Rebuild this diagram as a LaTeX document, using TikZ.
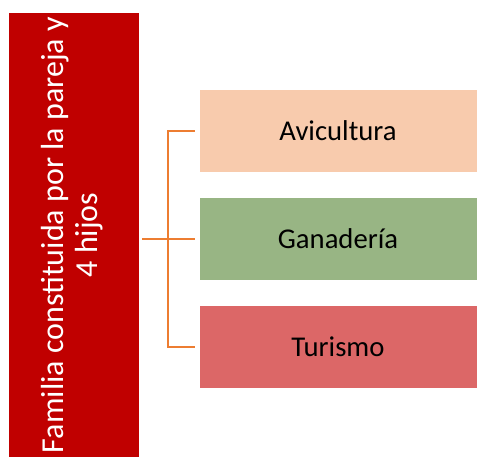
\documentclass[tikz,border=0pt]{standalone}
\usepackage{fontspec}
\setmainfont{Carlito}
\usetikzlibrary{positioning}
\definecolor{famred}{HTML}{C00000}
\definecolor{avipeach}{HTML}{F8CBAD}
\definecolor{gangreen}{HTML}{98B584}
\definecolor{turred}{HTML}{DC6767}
\definecolor{linkorange}{HTML}{ED7D31}
\tikzset{
	rama/.style={draw=white,line width=0.5pt,minimum width=208.5pt,minimum height=62.25pt,inner sep=0pt,font=\fontsize{21.5}{25.5}\selectfont},
	link/.style={draw=linkorange,line width=1.5pt}
}
\begin{document}
\begin{tikzpicture}[x=0.75pt,y=-0.75pt]
	\useasboundingbox (0,0) rectangle (477,457);
	\node[fill=famred,text=white,minimum width=97.5pt,minimum height=333pt,inner sep=0pt,font=\fontsize{24}{25.5}\selectfont] (fam) at (74,235)
		{\rotatebox{90}{\begin{tabular}{@{}c@{}}Familia constituida por la pareja y\\4 hijos\end{tabular}}};
	\node[rama,fill=avipeach] (avi) at (338,130.5) {Avicultura};
	\node[rama,fill=gangreen] (gan) at (338,238.5) {Ganadería};
	\node[rama,fill=turred] (tur) at (338,346.5) {Turismo};
	% conectores
	\coordinate (bus) at (168,238.5);
	\draw[link,shorten <=2.25pt,shorten >=3pt] (fam.east |- gan) -- (gan.west);
	\draw[link,shorten <=3pt,shorten >=3pt] (avi.west) -| (bus) |- (tur.west);
\end{tikzpicture}
\end{document}
